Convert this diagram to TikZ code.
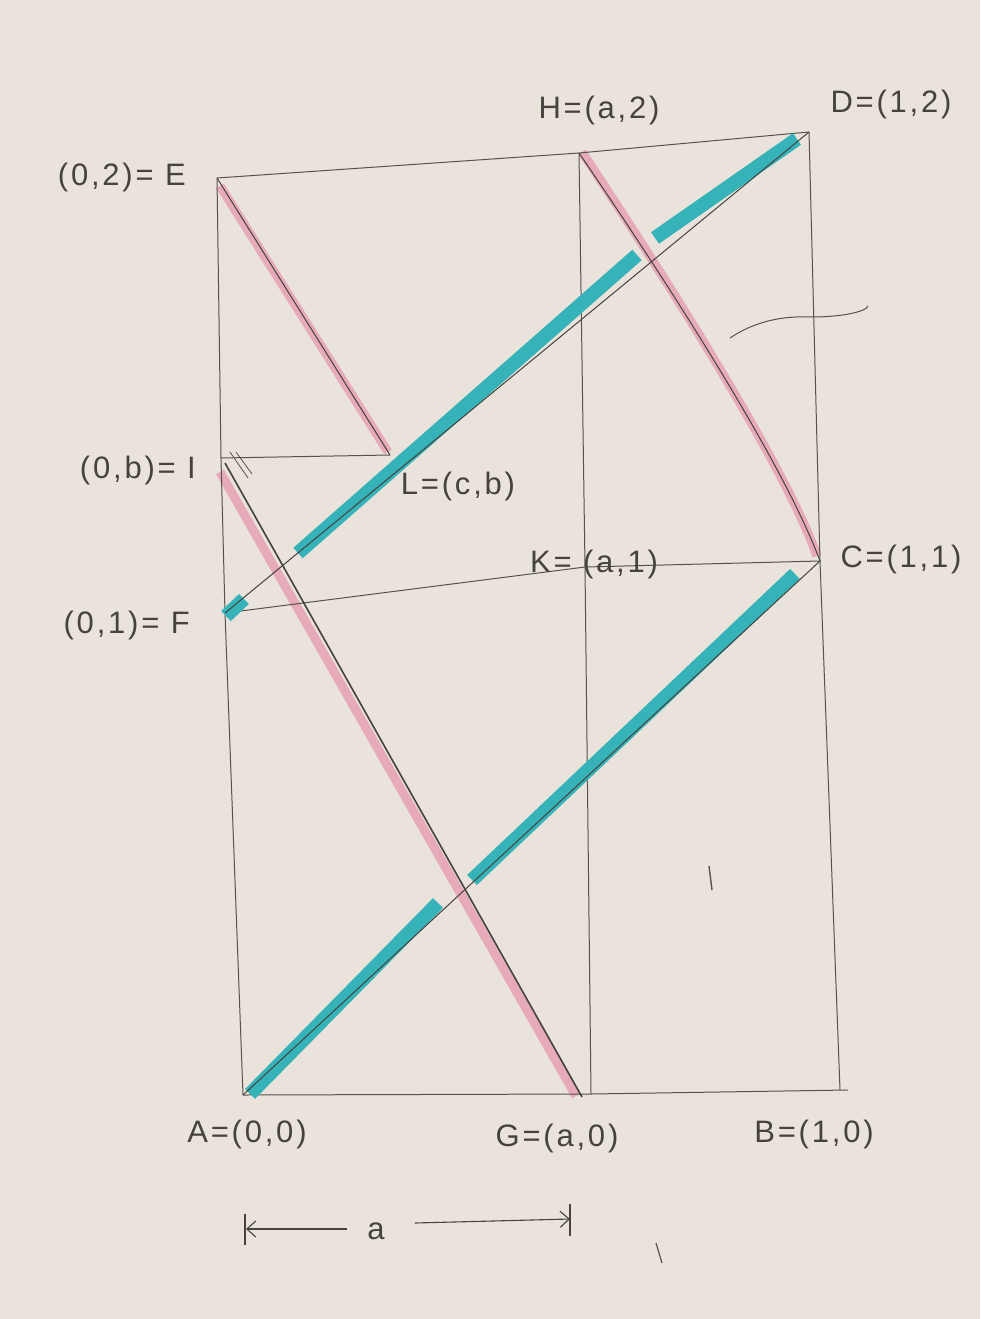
\documentclass[tikz,border=0pt]{standalone}
\usepackage{fontspec}
\setmainfont[LetterSpace=9]{Liberation Sans}
\usetikzlibrary{arrows.meta}
\definecolor{paper}{HTML}{EAE3DB}
\definecolor{pencil}{HTML}{55524F}
\definecolor{pinkhl}{HTML}{E7A1B2}
\definecolor{cyanhl}{HTML}{35B3B8}
\definecolor{ink}{HTML}{45423F}
\begin{document}
\begin{tikzpicture}[x=1pt,y=-1pt,
  frame/.style={draw=pencil,line width=1pt},
  pinkline/.style={draw=pinkhl,line width=9pt,opacity=0.85},
  cyanline/.style={draw=cyanhl,line width=14pt},
  guide/.style={draw=pencil!80!black,line width=1pt},
  lbl/.style={text=ink,font=\fontsize{31}{34}\selectfont,inner sep=0pt}]
\useasboundingbox (0,0) rectangle (980,1319);
\fill[paper] (0,0) rectangle (980,1319);
% points
\coordinate (E) at (217,178);
\coordinate (H) at (579,153);
\coordinate (D) at (809,132);
\coordinate (I) at (221,458);
\coordinate (L) at (390,455);
\coordinate (F) at (225,613);
\coordinate (K) at (585,567);
\coordinate (C) at (820,561);
\coordinate (A) at (243,1095);
\coordinate (G) at (591,1094);
\coordinate (Bc) at (840,1090);
\coordinate (Bend) at (848,1090);
% pink highlights
\path[pinkline] (220,186) -- (388,452);
\path[pinkline] (582,152) .. controls (700,330) and (790,480) .. (817,556);
\path[pinkline] (220,472) -- (576,1096);
% frame lines
\draw[frame] (E) -- (H) -- (D);
\draw[frame] (E) -- (I) -- (F) -- (A);
\draw[frame] (D) -- (C) -- (Bc);
\draw[frame] (H) -- (K) -- (G);
\draw[frame] (A) -- (G) -- (Bend);
\draw[frame] (I) -- (L);
\draw[frame] (F) -- (K) -- (C);
% pencil lines along pink
\draw[guide] (E) -- (L);
\draw[guide] (H) .. controls (700,330) and (790,480) .. (C);
\draw[guide,line width=1.6pt] (225,463) -- (582,1097);
\draw[pencil,line width=0.8pt] (230,452) -- (248,478);
\draw[pencil,line width=0.8pt] (236,452) -- (252,474);
% cyan highlights
\path[cyanline] (250,1094) -- (438,903);
\path[cyanline] (472,880) -- (795,574);
\path[cyanline] (226,616) -- (244,599);
\path[cyanline] (298,553) -- (637,255);
\path[cyanline] (655,238) -- (797,139);
% pencil lines along cyan
\draw[guide] (A) -- (C);
\draw[guide] (F) -- (D);
% leader curve and stray marks
\draw[pencil,line width=1pt] (730,338) .. controls (760,318) and (790,316) .. (813,317) .. controls (840,317) and (866,312) .. (868,306);
\draw[pencil,line width=1.4pt] (709,866) -- (712,890);
\draw[pencil,line width=1.2pt] (656,1243) -- (662,1263);
% dimension arrow
\coordinate (aL) at (246,1229);
\coordinate (aR) at (570,1219);
\node[lbl] (alab) at (376,1231) {a};
\draw[ink,line width=1.1pt] (245,1214) -- (245,1245);
\draw[ink,line width=1.1pt] (570,1204) -- (570,1236);
\draw[ink,line width=1.1pt,-{Straight Barb[length=9pt,width=16pt]}] (alab.west) ++(-20,-2) -- (aL);
\draw[ink,line width=1.1pt,-{Straight Barb[length=9pt,width=16pt]}] (alab.east) ++(30,-8) -- (aR);
% labels
\node[lbl,anchor=east] (lE) at (186,177) {(0,2)= E};
\node[lbl] (lH) at (599,110) {H=(a,2)};
\node[lbl] (lD) at (891,104) {D=(1,2)};
\node[lbl,anchor=east] (lI) at (196,470) {(0,b)= I};
\node[lbl] (lL) at (458,486) {L=(c,b)};
\node[lbl] (lK) at (594,564) {K= (a,1)};
\node[lbl] (lC) at (901,559) {C=(1,1)};
\node[lbl,anchor=east] (lF) at (190,625) {(0,1)= F};
\node[lbl] (lA) at (247,1134) {A=(0,0)};
\node[lbl] (lG) at (557,1138) {G=(a,0)};
\node[lbl] (lB) at (814,1134) {B=(1,0)};
\end{tikzpicture}
\end{document}
